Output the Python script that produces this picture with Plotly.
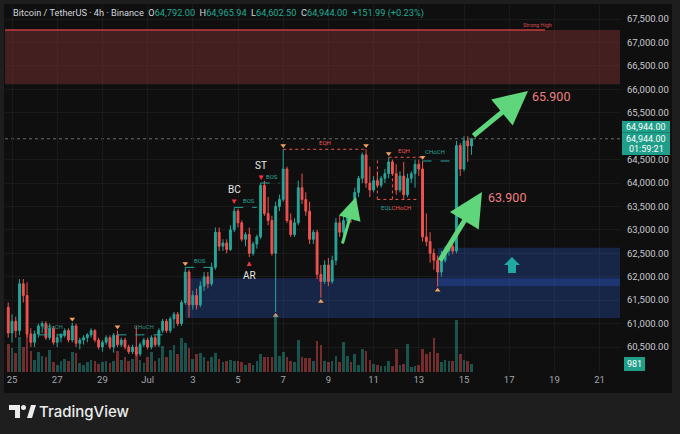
import pandas as pd
import plotly.graph_objects as go

# ---------------- data ----------------
first_bar_time = "2024-06-24 20:00"   # 4h bars
opens = [61350, 60800, 61050, 60850, 61850, 61600, 60780, 60600, 60780, 60950,
         61000, 60700, 60900, 60600, 60700, 60750, 60850, 60650, 60950, 60580,
         60650, 60700, 60760, 60850, 60650, 60500, 60600, 60700, 60500, 60750,
         60550, 60650, 60500, 60400, 60500, 60350, 60550, 60650, 60500, 60700,
         60550, 60850, 61050, 60850, 61100, 61200, 61000, 61450, 62100, 61400,
         61600, 61400, 61800, 62000, 61850, 62200, 62950, 62650, 62720, 62580,
         63000, 63400, 63150, 62800, 62900, 62500, 62700, 62850, 63950, 63350,
         63200, 62500, 63500, 63650, 64300, 63200, 62900, 63150, 63900, 63650,
         63400, 62800, 62950, 62050, 61900, 62250, 61900, 62350, 63150, 62950,
         63200, 63400, 63250, 63800, 64100, 64600, 64000, 63850, 64050, 63950,
         64100, 64200, 64450, 64200, 63850, 64150, 63750, 64100, 64200, 64400,
         64300, 62850, 62750, 62500, 62350, 62100, 62350, 62550, 62650, 62550,
         64800, 64300, 64900, 64792]
highs = [61450, 61200, 61150, 61950, 61950, 61880, 60900, 60850, 61000, 61050,
         61050, 61000, 60950, 60750, 60800, 60900, 60900, 61020, 61000, 60700,
         60750, 60800, 60900, 60880, 60700, 60650, 60750, 60750, 60800, 60850,
         60700, 60700, 60550, 60550, 60950, 60600, 60700, 60700, 60750, 60750,
         60900, 61100, 61100, 61150, 61250, 61250, 61500, 62200, 62150, 61700,
         61750, 61900, 62100, 62100, 62300, 63050, 63050, 62800, 62800, 63100,
         63480, 63450, 63200, 62950, 63050, 62750, 62900, 64000, 64050, 63700,
         63300, 63600, 63750, 64720, 64350, 63350, 63250, 64050, 64200, 63800,
         63600, 63000, 63000, 62250, 62350, 62400, 62450, 63250, 63300, 63300,
         63500, 63550, 63900, 64150, 64650, 64720, 64350, 64150, 64250, 64150,
         64300, 64550, 64500, 64400, 64250, 64450, 64200, 64250, 64500, 64500,
         64470, 63350, 62950, 62600, 62450, 62550, 62650, 62700, 62750, 64900,
         64850, 65000, 65000, 64965.94]
lows = [60700, 60600, 60700, 60750, 61450, 60700, 60500, 60500, 60700, 60800,
        60650, 60650, 60550, 60500, 60600, 60700, 60600, 60600, 60500, 60450,
        60550, 60600, 60700, 60600, 60450, 60400, 60550, 60450, 60380, 60500,
        60500, 60450, 60350, 60350, 60300, 60300, 60500, 60450, 60450, 60500,
        60500, 60800, 60800, 60800, 60900, 60950, 60950, 61400, 61130, 61300,
        61300, 61350, 61700, 61750, 61800, 62150, 62550, 62550, 62500, 62550,
        62950, 63050, 62750, 62650, 62420, 62450, 62600, 62800, 63300, 63100,
        62450, 61250, 63400, 63600, 63150, 62850, 62850, 63100, 63550, 63300,
        62700, 62700, 61950, 61550, 61850, 61800, 61850, 62250, 62850, 62800,
        63100, 63150, 63200, 63700, 64000, 63900, 63700, 63800, 63900, 63900,
        64000, 64100, 64150, 63750, 63800, 63650, 63700, 64000, 63900, 64150,
        62750, 62650, 62300, 62150, 61790, 62000, 62300, 62450, 62480, 62500,
        64150, 64250, 64450, 64602.50]
closes = [60800, 61050, 60850, 61850, 61600, 60780, 60600, 60780, 60950, 61000,
          60700, 60900, 60600, 60700, 60750, 60850, 60650, 60950, 60580, 60650,
          60700, 60760, 60850, 60650, 60500, 60600, 60700, 60500, 60750, 60550,
          60650, 60500, 60400, 60500, 60350, 60550, 60650, 60500, 60700, 60550,
          60850, 61050, 60850, 61100, 61200, 61000, 61450, 62100, 61400, 61600,
          61400, 61800, 62000, 61850, 62200, 62950, 62650, 62720, 62580, 63000,
          63400, 63150, 62800, 62900, 62500, 62700, 62850, 63950, 63350, 63200,
          62500, 63500, 63650, 64300, 63200, 62900, 63150, 63900, 63650, 63400,
          62800, 62950, 62050, 61900, 62250, 61900, 62350, 63150, 62950, 63200,
          63400, 63250, 63800, 64100, 64600, 64000, 63850, 64050, 63950, 64100,
          64200, 64450, 64200, 63850, 64150, 63750, 64100, 64200, 64400, 64300,
          62850, 62750, 62500, 62350, 62100, 62350, 62550, 62650, 62550, 64800,
          64300, 64900, 64792, 64944]
volumes = [3400, 2900, 2300, 4300, 3100, 4600, 2600, 1500, 2500, 2000,
           1900, 2700, 1200, 900, 1300, 1600, 1400, 2400, 2300, 1100,
           900, 1200, 1500, 1300, 1000, 1200, 1400, 1100, 1300, 2600,
           1500, 1800, 1300, 1600, 2400, 1500, 1100, 1900, 2400, 1400,
           1700, 3200, 1800, 2700, 3300, 2200, 4200, 3500, 2900, 1600,
           2200, 2300, 1800, 1400, 1900, 2300, 1600, 1200, 1300, 1500,
           1400, 1300, 1200, 900, 1100, 900, 1400, 2200, 1800, 1800,
           1900, 7000, 2000, 2400, 1900, 1300, 1200, 3900, 1900, 1700,
           1700, 1300, 3800, 3300, 1400, 1200, 1400, 2000, 1200, 3700,
           2000, 1200, 2200, 900, 2800, 2600, 1500, 1000, 800, 700,
           700, 1300, 700, 2800, 800, 1000, 3400, 600, 700, 900,
           2800, 2200, 2400, 4200, 2300, 1200, 1500, 1400, 1300, 6400,
           2200, 1500, 1300, 981]

date_ticks = ["2024-06-25", "2024-06-27", "2024-06-29", "2024-07-01", "2024-07-03",
              "2024-07-05", "2024-07-07", "2024-07-09", "2024-07-11", "2024-07-13",
              "2024-07-15", "2024-07-17", "2024-07-19", "2024-07-21"]
date_labels = ["25", "27", "29", "Jul", "3", "5", "7", "9", "11", "13", "15", "17", "19", "21"]
# 65,000 is hidden behind the live price label in the original
price_ticks = [60500, 61000, 61500, 62000, 62500, 63000, 63500, 64000,
               64500, 65500, 66000, 66500, 67000, 67500]
price_labels = ["60,500.00", "61,000.00", "61,500.00", "62,000.00", "62,500.00",
                "63,000.00", "63,500.00", "64,000.00", "64,500.00",
                "65,500.00", "66,000.00", "66,500.00", "67,000.00", "67,500.00"]

strong_high_zone = [67265, 66110]          # top, bottom
demand_zone_1 = [61970, 61120]             # from bar 47
demand_zone_2 = [62620, 61800]             # from bar 114
demand_start = [47, 114]
targets = [65900, 63900]
target_labels = ["65.900", "63.900"]
last_price = 64944
swing_high_idx = [17, 29, 47, 73, 95, 101, 110]
swing_low_idx = [71, 83, 114]
bos_pairs = [(47, 54), (60, 66), (67, 72)]
choch_left_level = 60760
choch_left_pairs = [(8, 17), (29, 43)]

# ---------------- layout geometry ----------------
W, H = 680, 434
L, R, T, B = 5, 60, 5, 62
PW, PH = W - L - R, H - T - B
UP, DN = "#26a69a", "#ef5350"
BG, PAGE, GRID = "#0f0f0f", "#1e1e1e", "#1a1a1a"
FONT = "Roboto, Liberation Sans, sans-serif"

day0 = pd.Timestamp("2024-06-25")
px_day = 22.6
px_k = 46.86  # px per 1000 USDT
x_start = day0 - pd.Timedelta(days=(12 - L) / px_day)
x_end = x_start + pd.Timedelta(days=PW / px_day)
y_top = 67500 + (19 - T) / px_k * 1000
y_bot = y_top - PH / px_k * 1000


def ts(t):
    return pd.Timestamp(t).strftime("%Y-%m-%d %H:%M:%S")


def dx(px):
    return ts(x_start + pd.Timedelta(days=(px - L) / px_day))


def py(p):
    return y_top - (p - T) / px_k * 1000


def fx(px):
    return (px - L) / PW


def fy(p):
    return (H - B - p) / PH


times = pd.date_range(first_bar_time, periods=len(closes), freq="4h")
tstr = [ts(t) for t in times]

fig = go.Figure()
vol_colors = ["rgba(38,166,154,0.45)" if c >= o else "rgba(239,83,80,0.45)"
              for o, c in zip(opens, closes)]
fig.add_trace(go.Bar(x=tstr, y=volumes, marker=dict(color=vol_colors, line_width=0),
                     width=4 * 3600 * 1000 * 0.7, yaxis="y2", hoverinfo="skip"))
fig.add_trace(go.Candlestick(
    x=tstr, open=opens, high=highs, low=lows, close=closes,
    increasing=dict(line=dict(color=UP, width=1), fillcolor=UP),
    decreasing=dict(line=dict(color=DN, width=1), fillcolor=DN),
    whiskerwidth=0, hoverinfo="skip"))

# swing markers
fig.add_trace(go.Scatter(x=[tstr[i] for i in swing_high_idx],
                         y=[highs[i] + 80 for i in swing_high_idx], mode="markers",
                         marker=dict(symbol="triangle-down", size=5, color="#f5a25d"),
                         hoverinfo="skip"))
fig.add_trace(go.Scatter(x=[tstr[i] for i in swing_low_idx],
                         y=[lows[i] - 80 for i in swing_low_idx], mode="markers",
                         marker=dict(symbol="triangle-up", size=5, color="#f5a25d"),
                         hoverinfo="skip"))

shapes = [
    dict(type="rect", xref="paper", yref="paper", x0=fx(4), x1=fx(672), y0=fy(393), y1=fy(4),
         fillcolor=BG, line_width=0, layer="below"),
    dict(type="rect", xref="x", yref="y", x0=ts(x_start), x1=ts(x_end),
         y0=strong_high_zone[1], y1=strong_high_zone[0],
         fillcolor="rgba(120,48,48,0.5)", line_width=0, layer="between"),
    dict(type="line", xref="x", yref="y", x0=ts(x_start), x1=dx(545),
         y0=strong_high_zone[0], y1=strong_high_zone[0], line=dict(color="#c23b40", width=1.5)),
    dict(type="rect", xref="x", yref="y", x0=tstr[demand_start[0]], x1=ts(x_end),
         y0=demand_zone_1[1], y1=demand_zone_1[0],
         fillcolor="rgba(45,100,230,0.26)", line_width=0, layer="between"),
    dict(type="rect", xref="x", yref="y", x0=tstr[demand_start[1]], x1=ts(x_end),
         y0=demand_zone_2[1], y1=demand_zone_2[0],
         fillcolor="rgba(45,100,230,0.26)", line_width=0, layer="between"),
    dict(type="line", xref="paper", yref="y", x0=0, x1=1, y0=last_price, y1=last_price,
         line=dict(color="rgba(170,175,180,0.6)", width=1, dash="dot"), layer="between"),
]
annotations = []


def small(text, x, y, color, yshift=0, size=6, xanchor="center"):
    annotations.append(dict(text=text, x=x, y=y, xref="x", yref="y", showarrow=False,
                            yshift=yshift, xanchor=xanchor, yanchor="middle",
                            font=dict(size=size, color=color, family=FONT)))


def paper_text(text, px, pyy, size, color, xanchor="center", family=FONT, **kw):
    annotations.append(dict(text=text, xref="paper", yref="paper", x=fx(px), y=fy(pyy),
                            xanchor=xanchor, yanchor="middle", showarrow=False, borderpad=0,
                            font=dict(size=size, color=color, family=family, **kw)))


for a, b in bos_pairs:
    lvl = highs[a]
    shapes.append(dict(type="line", xref="x", yref="y", x0=tstr[a], x1=tstr[b], y0=lvl, y1=lvl,
                       line=dict(color=UP, width=1, dash="dash")))
    small("BOS", tstr[(a + b) // 2 + 1], lvl, UP, yshift=7)

for a, b in choch_left_pairs:
    shapes.append(dict(type="line", xref="x", yref="y", x0=tstr[a], x1=tstr[b],
                       y0=choch_left_level, y1=choch_left_level,
                       line=dict(color=UP, width=1, dash="dash")))
    small("CHoCH", tstr[(a + b) // 2], choch_left_level, "#2f8f84", yshift=8)

# EQH / CHoCH / EQL structure
eqh1 = highs[73]
shapes.append(dict(type="line", xref="x", yref="y", x0=tstr[73], x1=tstr[95], y0=eqh1, y1=eqh1,
                   line=dict(color=DN, width=1, dash="dot")))
small("EQH", tstr[84], eqh1, DN, yshift=7)
eqh2 = highs[101]
shapes.append(dict(type="line", xref="x", yref="y", x0=tstr[101], x1=tstr[110], y0=eqh2, y1=eqh2,
                   line=dict(color=DN, width=1, dash="dot")))
small("EQH", tstr[105], eqh2, DN, yshift=7)
ch = highs[110]
shapes.append(dict(type="line", xref="x", yref="y", x0=tstr[110], x1=tstr[119], y0=ch, y1=ch,
                   line=dict(color=UP, width=1, dash="dash")))
small("CHoCH", tstr[110], ch, UP, yshift=9, xanchor="left")
eql = lows[105]
shapes.append(dict(type="line", xref="x", yref="y", x0=tstr[98], x1=tstr[109], y0=eql, y1=eql,
                   line=dict(color=DN, width=1, dash="dot")))
shapes.append(dict(type="line", xref="x", yref="y", x0=tstr[98], x1=tstr[98], y0=eql, y1=highs[101],
                   line=dict(color=DN, width=1, dash="dot")))
shapes.append(dict(type="line", xref="x", yref="y", x0=tstr[102], x1=tstr[102], y0=eql, y1=highs[101],
                   line=dict(color=DN, width=1, dash="dot")))
small("<span style='color:%s'>EQL</span><span style='color:%s'>CHoCH</span>" % (UP, DN),
      tstr[103], eql, DN, yshift=-8)

small("Strong High", dx(537), strong_high_zone[0], "#d04a4a", yshift=5, size=5.5)

# Wyckoff labels
for lab, i, side in [("BC", 60, "high"), ("ST", 67, "high"), ("AR", 64, "low")]:
    if side == "high":
        small(lab, tstr[i], highs[i], "#e8e8e8", yshift=18, size=10)
        small("▼", tstr[i], highs[i], "#f23645", yshift=6, size=8)
    else:
        small(lab, tstr[i], lows[i], "#e8e8e8", yshift=-18, size=10)
        small("▲", tstr[i], lows[i], "#f23645", yshift=-6, size=8)

# target arrows and labels
GREEN = "#5fd67c"
for tip_px, tip_py, ax, ay, w, s in [(528, 91, -56, 46, 5, 1.35), (482, 192, -43, 70, 5, 1.35),
                                     (356, 197, -14, 48, 3, 1.5)]:
    annotations.append(dict(x=dx(tip_px), y=py(tip_py), xref="x", yref="y", text="",
                            showarrow=True, ax=ax, ay=ay, arrowcolor=GREEN, arrowwidth=w,
                            arrowhead=2, arrowsize=s, standoff=0))
annotations.append(dict(x=dx(530), y=py(96), xref="x", yref="y", text=target_labels[0],
                        showarrow=False, xanchor="left", yanchor="middle",
                        font=dict(size=12.5, color="#ee8080", family=FONT)))
annotations.append(dict(x=dx(486), y=py(197), xref="x", yref="y", text=target_labels[1],
                        showarrow=False, xanchor="left", yanchor="middle",
                        font=dict(size=12.5, color="#ee8080", family=FONT)))

# up arrow icon in the demand zone
pts = [(512, 257), (520, 265), (516, 265), (516, 273), (508, 273), (508, 265), (504, 265)]
path = "M" + " L".join("%.4f,%.4f" % (fx(a), fy(b)) for a, b in pts) + " Z"
shapes.append(dict(type="path", xref="paper", yref="paper", path=path,
                   fillcolor="#1fa9a0", line_width=0))

# header
hdr = ("Bitcoin / TetherUS · 4h · Binance&nbsp;&nbsp;O<span style='color:{c}'>{o:,.2f}</span>"
       "&nbsp;&nbsp;H<span style='color:{c}'>{h:,.2f}</span>&nbsp;&nbsp;L<span style='color:{c}'>{l:,.2f}</span>"
       "&nbsp;&nbsp;C<span style='color:{c}'>{cl:,.2f}</span>&nbsp;&nbsp;<span style='color:{c}'>+151.99 (+0.23%)</span>"
       ).format(c="#22ab94", o=opens[-1], h=highs[-1], l=lows[-1], cl=closes[-1])
paper_text(hdr, 12, 13, 9.2, "#d1d4dc", xanchor="left")

# price label boxes on the axis
TEAL_BOX = "#1f9e89"
shapes.append(dict(type="rect", xref="paper", yref="paper", x0=fx(622), x1=fx(670),
                   y0=fy(155), y1=fy(121), fillcolor=TEAL_BOX, line_width=0, layer="above"))
shapes.append(dict(type="line", xref="paper", yref="paper", x0=fx(622), x1=fx(670),
                   y0=fy(132.5), y1=fy(132.5), line=dict(color="#178271", width=1), layer="above"))
for txt, yy in [("{:,.2f}".format(last_price), 127), ("{:,.2f}".format(last_price), 138.5),
                ("01:59:21", 149)]:
    paper_text(txt, 646, yy, 9, "#ffffff")
shapes.append(dict(type="rect", xref="paper", yref="paper", x0=fx(624), x1=fx(645),
                   y0=fy(371), y1=fy(357), fillcolor=TEAL_BOX, line_width=0, layer="above"))
paper_text(str(volumes[-1]), 634.5, 364, 9, "#ffffff")

# TradingView logo
logo_T = [(9, 405), (20, 405), (20, 418), (15, 418), (15, 410), (9, 410)]
shapes.append(dict(type="path", xref="paper", yref="paper",
                   path="M" + " L".join("%.4f,%.4f" % (fx(a), fy(b)) for a, b in logo_T) + " Z",
                   fillcolor="#ececec", line_width=0))
shapes.append(dict(type="circle", xref="paper", yref="paper", x0=fx(21), x1=fx(26),
                   y0=fy(410), y1=fy(405), fillcolor="#ececec", line_width=0))
logo_S = [(27, 418), (31, 405), (36, 405), (32, 418)]
shapes.append(dict(type="path", xref="paper", yref="paper",
                   path="M" + " L".join("%.4f,%.4f" % (fx(a), fy(b)) for a, b in logo_S) + " Z",
                   fillcolor="#ececec", line_width=0))
paper_text("TradingView", 38, 411.5, 15, "#ececec", xanchor="left",
           family="Inter, Roboto, sans-serif", weight=500)

fig.update_layout(
    width=W, height=H, margin=dict(l=L, r=R, t=T, b=B, autoexpand=False),
    paper_bgcolor=PAGE, plot_bgcolor=BG, showlegend=False,
    shapes=shapes, annotations=annotations, bargap=0,
    xaxis=dict(type="date", range=[ts(x_start), ts(x_end)], rangeslider=dict(visible=False),
               tickvals=date_ticks, ticktext=date_labels, showgrid=True, gridcolor=GRID,
               zeroline=False, showline=False, ticks="", automargin=False,
               tickfont=dict(size=9.5, color="#a3a6ad", family=FONT)),
    yaxis=dict(side="right", range=[y_bot, y_top], tickvals=price_ticks, ticktext=price_labels,
               showgrid=True, gridcolor=GRID, zeroline=False, showline=False, ticks="",
               automargin=False, ticklabelstandoff=6,
               tickfont=dict(size=9.5, color="#c7cad0", family=FONT)),
    yaxis2=dict(overlaying="y", range=[0, 45000], visible=False, showgrid=False),
)
fig.write_html("out.html", config={"displayModeBar": False},
               post_script="document.body.style.margin='0';document.body.style.background='#1e1e1e';")
